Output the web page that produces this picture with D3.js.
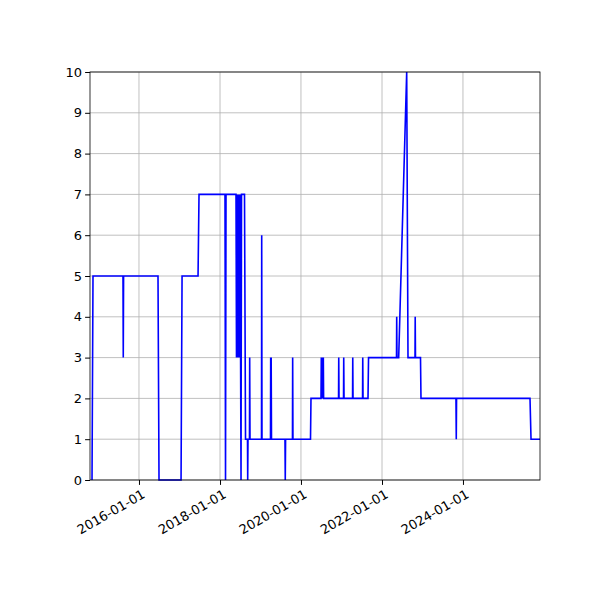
<!DOCTYPE html><html><head><meta charset="utf-8"><script src="https://cdn.jsdelivr.net/npm/d3@7"></script>
<style>body{margin:0;background:#fff}text{font-family:"DejaVu Sans",sans-serif}</style></head><body><svg id="c" width="600" height="600"></svg><script>
// decimal years
const times = [2014.840,2014.864,2015.605,2015.612,2015.620,2016.469,2016.494,2017.037,2017.062,2017.457,2017.481,
2018.123,2018.136,2018.148,2018.395,2018.407,2018.420,2018.432,2018.444,2018.457,2018.469,2018.481,2018.494,
2018.519,2018.531,2018.605,2018.630,2018.679,2018.684,2018.691,2018.728,2018.733,2018.741,
2019.025,2019.030,2019.037,2019.247,2019.252,2019.259,2019.264,2019.272,2019.605,2019.612,2019.620,
2019.790,2019.795,2019.802,2020.235,2020.247,2020.494,2020.501,2020.509,2020.526,2020.533,2020.551,2020.558,
2020.926,2020.931,2020.938,2021.049,2021.054,2021.062,2021.272,2021.277,2021.284,2021.519,2021.524,2021.531,
2021.654,2021.667,2022.358,2022.363,2022.370,2022.412,2022.610,2022.642,2022.815,2022.820,2022.827,
2022.951,2022.963,2023.827,2023.835,2023.842,2025.654,2025.679,2025.901];
const values = [0,5,5,3,5,5,0,0,5,5,7,
7,0,7,7,3,7,3,7,3,7,3,7,
0,7,7,1,1,0,1,1,3,1,
1,6,1,1,3,1,3,1,1,0,1,
1,3,1,1,2,2,3,2,3,2,3,2,
2,3,2,2,3,2,2,3,2,2,3,2,
2,3,3,4,3,3,10,3,3,4,3,
3,2,2,1,2,2,1,1];
const xDomain=[2014.790,2025.901];
const yTicks=[0,1,2,3,4,5,6,7,8,9,10];
const xTickYears=[2016,2018,2020,2022,2024];

function toDate(y){const yr=Math.floor(y);const a=Date.UTC(yr,0,1),b=Date.UTC(yr+1,0,1);return new Date(a+(y-yr)*(b-a));}
const svg=d3.select("#c");
const L=90,R=540,T=72,B=480;
const x=d3.scaleUtc().domain(xDomain.map(toDate)).range([L,R]);
const y=d3.scaleLinear().domain([0,10]).range([B,T]);
const tickDates=xTickYears.map(v=>new Date(Date.UTC(v,0,1)));
const g=svg.append("g");
g.selectAll(".vg").data(tickDates).join("line").attr("x1",d=>x(d)).attr("x2",d=>x(d)).attr("y1",T).attr("y2",B).attr("stroke","#b0b0b0").attr("stroke-width",0.8);
g.selectAll(".hg").data(yTicks).join("line").attr("x1",L).attr("x2",R).attr("y1",d=>y(d)).attr("y2",d=>y(d)).attr("stroke","#b0b0b0").attr("stroke-width",0.8);
const data=times.map((t,i)=>[toDate(t),values[i]]);
svg.append("path").datum(data).attr("fill","none").attr("stroke","#0000ff").attr("stroke-width",1.6)
 .attr("d",d3.line().x(d=>x(d[0])).y(d=>y(d[1])));
svg.append("rect").attr("x",L).attr("y",T).attr("width",R-L).attr("height",B-T).attr("fill","none").attr("stroke","#000").attr("stroke-width",0.8);
const xa=svg.append("g").attr("transform",`translate(0,${B})`).call(d3.axisBottom(x).tickValues(tickDates).tickFormat(d3.utcFormat("%Y-%m-%d")).tickSize(4.9).tickSizeOuter(0));
xa.select(".domain").remove();
xa.selectAll("text").attr("font-size",13).attr("text-anchor","end").attr("dy","0.7em").attr("y",0).attr("x",0).attr("transform","translate(2,9) rotate(-30)");
const ya=svg.append("g").attr("transform",`translate(${L},0)`).call(d3.axisLeft(y).tickValues(yTicks).tickSize(4.9).tickSizeOuter(0));
ya.select(".domain").remove();
ya.selectAll("text").attr("font-size",13).attr("fill","#000");
</script></body></html>
